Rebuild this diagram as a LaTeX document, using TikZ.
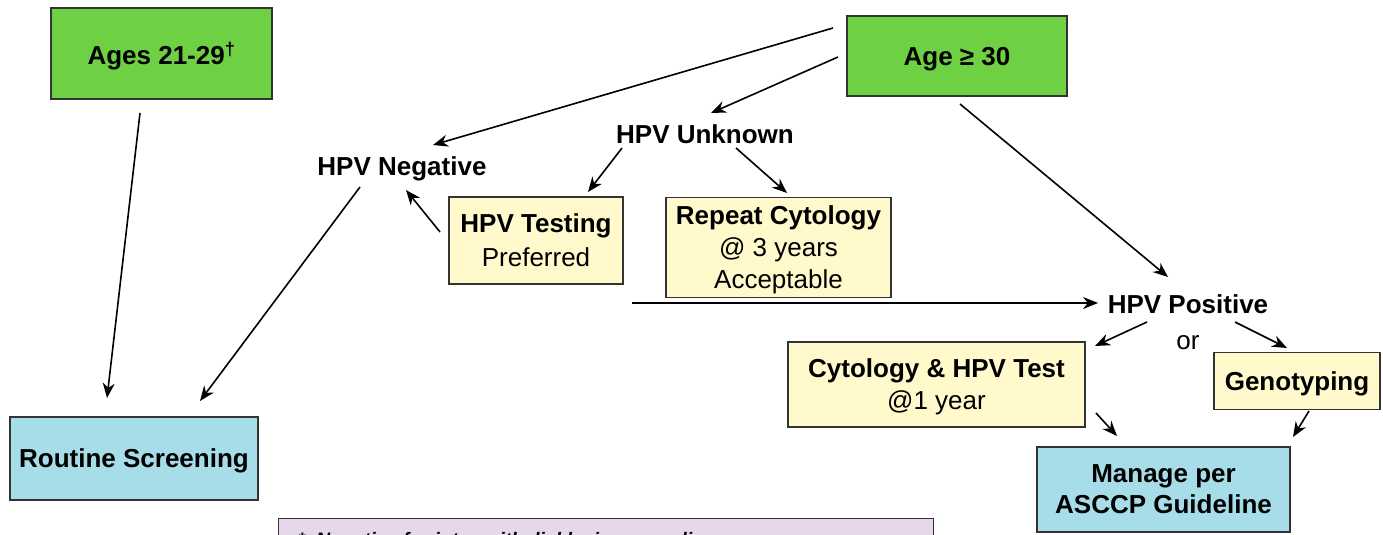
\documentclass[tikz,border=0pt]{standalone}
\usepackage{fontspec}
\setmainfont{Liberation Sans}
\usetikzlibrary{arrows.meta}

\definecolor{agegreen}{HTML}{6DD143}
\definecolor{stepyellow}{HTML}{FFF9CC}
\definecolor{endblue}{HTML}{A7DDE9}
\definecolor{notepurple}{HTML}{E6D7EA}

\begin{document}
\begin{tikzpicture}[x=1pt,y=-1pt,line width=1.6pt,
      >={Stealth[length=15pt,width=12pt]},
      box/.style={draw=black!80,line width=1.2pt,align=center,inner sep=0pt,
        text depth=0pt,font=\fontsize{26}{32}\selectfont},
      agebox/.style={box,fill=agegreen,font=\fontsize{26}{32}\selectfont\bfseries},
      testbox/.style={box,fill=stepyellow},
      endbox/.style={box,fill=endblue,font=\fontsize{26}{31}\selectfont\bfseries},
      result/.style={inner sep=0pt,text height=19pt,text depth=0pt,
        font=\fontsize{26}{30}\selectfont\bfseries}]
  \clip (0,0) rectangle (1383,535);
  \useasboundingbox (0,0) rectangle (1383,535);
  \node[agebox,minimum width=221pt,minimum height=91pt] (ages) at (161.5,53.5)
    {Ages 21-29\textsuperscript{†}};
  \node[agebox,minimum width=220pt,minimum height=80pt] (age30) at (957,56)
    {Age ≥ 30};
  \node[endbox,minimum width=248pt,minimum height=83pt] (routine) at (134,458.5)
    {Routine Screening};
  \node[result] (neg) at (402,166) {HPV Negative};
  \node[result] (unk) at (705,134) {HPV Unknown};
  \node[testbox,minimum width=174pt,minimum height=87pt] (test) at (536,240.5)
    {\textbf{HPV Testing}\\[2pt] Preferred};
  \node[testbox,minimum width=225pt,minimum height=100pt] (repeat) at (778.5,247.5)
    {\textbf{Repeat Cytology}\\ @ 3 years\\ Acceptable};
  \node[result] (pos) at (1188,304) {HPV Positive};
  \node[result,font=\fontsize{26}{30}\selectfont] (orlbl) at (1188,340) {or};
  \node[testbox,minimum width=297pt,minimum height=85pt] (cyto) at (936.5,384.5)
    {\textbf{Cytology \& HPV Test}\\ @1 year};
  \node[testbox,minimum width=166pt,minimum height=57pt] (geno) at (1297,381)
    {\textbf{Genotyping}};
  \node[endbox,minimum width=253pt,minimum height=85pt] (manage) at (1163.5,489.5)
    {Manage per\\ ASCCP Guideline};
  \node[draw=black!80,line width=1.2pt,fill=notepurple,anchor=north west,
    minimum width=655pt,minimum height=60pt] (notebox) at (278,518) {};
  \node[anchor=base west,inner sep=0pt,font=\fontsize{19.5}{24}\selectfont\bfseries\itshape]
    (note) at (297,546) {*\ \ Negative for intraepithelial lesion or malignancy};

  \draw[->] ([xshift=-21.5pt,yshift=-59.5pt]ages.center) -- ([xshift=-27pt,yshift=60.5pt]routine.center);
  \draw[->] ([xshift=-42pt,yshift=-21pt]neg.center) -- ([xshift=66pt,yshift=57.5pt]routine.center);
  \draw[->] ([xshift=-124pt,yshift=28pt]age30.center) -- ([xshift=31pt,yshift=21pt]neg.center);
  \draw[->] ([xshift=-119pt,yshift=-1pt]age30.center) -- ([xshift=6pt,yshift=21pt]unk.center);
  \draw[->] ([xshift=3pt,yshift=-48pt]age30.center) -- ([xshift=-20pt,yshift=27pt]pos.center);
  \draw[->] ([xshift=-83pt,yshift=-14pt]unk.center) -- ([xshift=52pt,yshift=48.5pt]test.center);
  \draw[->] ([xshift=31pt,yshift=-14pt]unk.center) -- ([xshift=8.5pt,yshift=54.5pt]repeat.center);
  \draw[->] ([xshift=-96pt,yshift=8.5pt]test.center) -- ([xshift=4pt,yshift=-24pt]neg.center);
  \draw[->] ([xshift=96pt,yshift=-62.5pt]test.center) -- ([xshift=-90pt,yshift=1pt]pos.center);
  \draw[->] ([xshift=-41pt,yshift=-18pt]pos.center) -- ([xshift=158.5pt,yshift=38.5pt]cyto.center);
  \draw[->] ([xshift=47pt,yshift=-18pt]pos.center) -- ([xshift=-10pt,yshift=33pt]geno.center);
  \draw[->] ([xshift=159.5pt,yshift=-28.5pt]cyto.center) -- ([xshift=-46.5pt,yshift=53.5pt]manage.center);
  \draw[->] ([xshift=12pt,yshift=-30pt]geno.center) -- ([xshift=129.5pt,yshift=52.5pt]manage.center);
\end{tikzpicture}
\end{document}
